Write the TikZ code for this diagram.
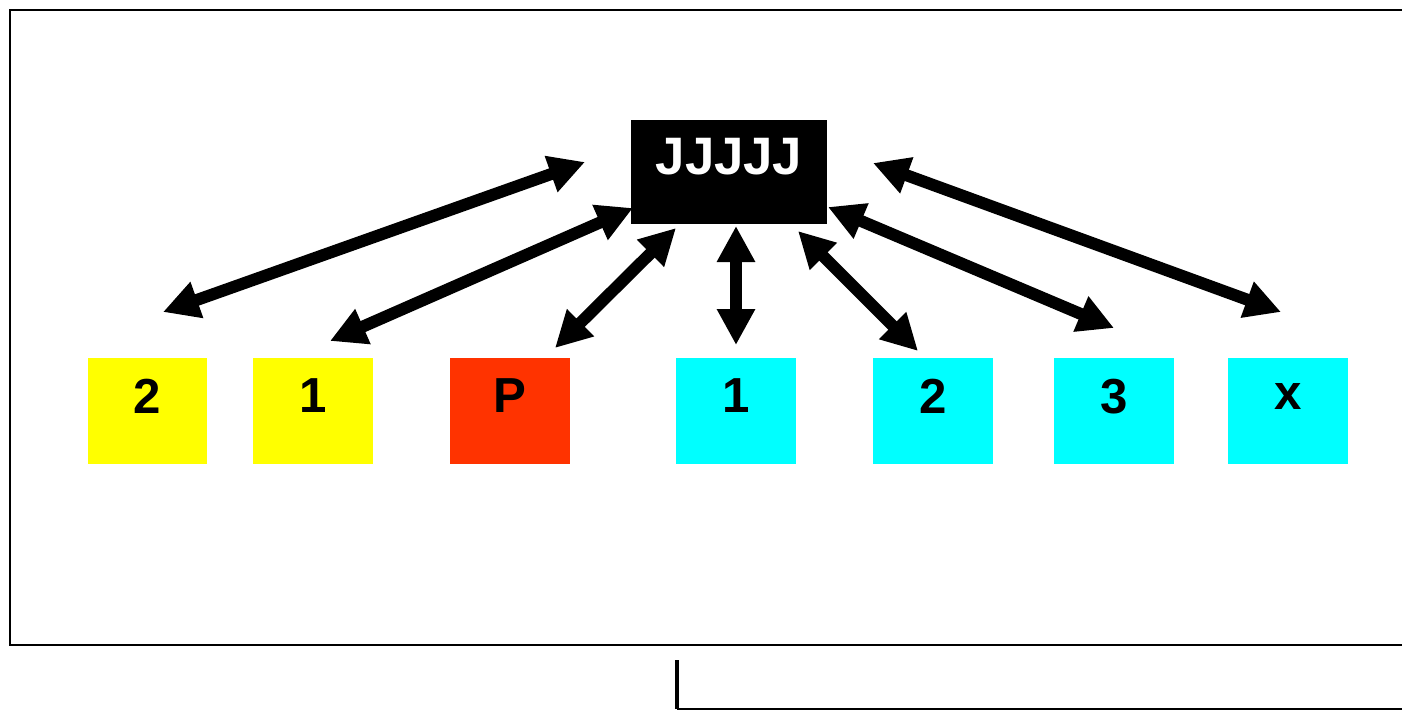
\documentclass[tikz,border=0pt]{standalone}
\usepackage{fontspec}
\setmainfont{Liberation Sans}
\usetikzlibrary{arrows.meta}
\definecolor{boxyellow}{HTML}{FFFF00}
\definecolor{boxred}{HTML}{FF3300}
\definecolor{boxcyan}{HTML}{00FFFF}
\tikzset{
  cell/.style={minimum width=2.4cm,minimum height=2.12cm,inner sep=0pt,
    text depth=0.58cm,font=\fontsize{28}{30}\selectfont\bfseries},
  link/.style={line width=0.24cm,{Triangle[length=0.72cm,width=0.72cm]}-{Triangle[length=0.72cm,width=0.72cm]}}
}
\begin{document}
\begin{tikzpicture}[x=0.02cm,y=-0.02cm]
              \useasboundingbox (0,0) rectangle (1402,711);
              \draw[line width=1.1pt] (1402,10) -- (10,10) -- (10,645) -- (1402,645);
              \draw[line width=2.2pt] (677,660) -- (677,709);
              \draw[line width=1.1pt] (677,709) -- (1402,709);
              \node[fill=black,text=white,minimum width=3.92cm,minimum height=2.08cm,inner sep=0pt,
                text depth=0.64cm,font=\fontsize{30}{32}\selectfont\bfseries](hub)at(729,172){JJJJJ};
              \node[cell,fill=boxyellow](y2)at(147.5,410.5){2};
              \node[cell,fill=boxyellow](y1)at(313,410.5){1};
              \node[cell,fill=boxred](p)at(510,410.5){P};
              \node[cell,fill=boxcyan](c1)at(736,410.5){1};
              \node[cell,fill=boxcyan](c2)at(933,410.5){2};
              \node[cell,fill=boxcyan](c3)at(1114,410.5){3};
              \node[cell,fill=boxcyan](cx)at(1288,410.5){x};
              \coordinate(a1)at(163,312);  \coordinate(b1)at(585,162);
              \coordinate(a2)at(330,341);  \coordinate(b2)at(633,208);
              \coordinate(a3)at(555,348);  \coordinate(b3)at(676,228);
              \coordinate(a4)at(736,345);  \coordinate(b4)at(736,226);
              \coordinate(a5)at(918,351);  \coordinate(b5)at(798,231);
              \coordinate(a6)at(1114,328); \coordinate(b6)at(828,207);
              \coordinate(a7)at(1281,312); \coordinate(b7)at(873,163);
              \foreach \i in {1,...,7}
                \draw[link](a\i)--(b\i);
            \end{tikzpicture}
\end{document}
